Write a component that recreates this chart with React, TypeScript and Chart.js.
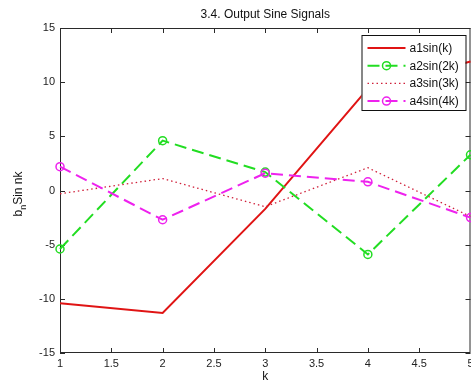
import React, { useEffect, useRef } from 'react';
import { Chart, registerables } from 'chart.js';
Chart.register(...registerables);

const kValues = [1, 2, 3, 4, 5];
const a1Values = [-10.4, -11.3, -1.7, 9.4, 11.9];
const a2Values = [-5.4, 4.6, 1.7, -5.9, 3.3];
const a3Values = [-0.3, 1.1, -1.5, 2.1, -2.4];
const a4Values = [2.2, -2.7, 1.6, 0.8, -2.5];
const seriesLabels = ['a1sin(k)', 'a2sin(2k)', 'a3sin(3k)', 'a4sin(4k)'];
const xTicks = [1, 1.5, 2, 2.5, 3, 3.5, 4, 4.5, 5];
const yTicks = [-15, -10, -5, 0, 5, 10, 15];
const titleText = '3.4. Output Sine Signals';
const xLabel = 'k';
const yLabelBase = 'b';
const yLabelSub = 'n';
const yLabelRest = 'Sin nk';

const FONT = '"Liberation Sans", Arial, sans-serif';

const toPts = (arr: number[]) => kValues.map((k, i) => ({ x: k, y: arr[i] }));

const framePlugin = {
  id: 'matlabFrame',
  beforeDatasetsDraw(chart: any) {
    const { ctx, chartArea: a, scales } = chart;
    ctx.save();
    ctx.strokeStyle = '#2a2a2a';
    ctx.lineWidth = 1;
    ctx.strokeRect(a.left + 0.5, a.top + 0.5, a.right - a.left - 1, a.bottom - a.top - 1);
    ctx.beginPath();
    xTicks.forEach((t) => {
      const x = Math.round(scales.x.getPixelForValue(t)) + 0.5;
      ctx.moveTo(x, a.bottom);
      ctx.lineTo(x, a.bottom - 5);
      ctx.moveTo(x, a.top);
      ctx.lineTo(x, a.top + 5);
    });
    yTicks.forEach((t) => {
      const y = Math.round(scales.y.getPixelForValue(t)) + 0.5;
      ctx.moveTo(a.left, y);
      ctx.lineTo(a.left + 5, y);
      ctx.moveTo(a.right, y);
      ctx.lineTo(a.right - 5, y);
    });
    ctx.stroke();
    ctx.restore();
  },
  afterDatasetsDraw(chart: any) {
    const { ctx, chartArea: a } = chart;
    const ds = chart.data.datasets;
    const bx = a.right - 109;
    const by = a.top + 7;
    const bw = 104;
    const bh = 75;
    ctx.save();
    ctx.fillStyle = '#ffffff';
    ctx.fillRect(bx, by, bw, bh);
    ctx.strokeStyle = '#111111';
    ctx.lineWidth = 1;
    ctx.strokeRect(bx + 0.5, by + 0.5, bw, bh);
    ds.forEach((d: any, i: number) => {
      const y = by + 13 + i * 17.7;
      ctx.save();
      ctx.strokeStyle = d.borderColor;
      ctx.lineWidth = d.borderWidth;
      ctx.setLineDash(d.borderDash || []);
      ctx.beginPath();
      ctx.moveTo(bx + 6, y);
      ctx.lineTo(bx + 44, y);
      ctx.stroke();
      ctx.setLineDash([]);
      if (d.pointRadius > 0) {
        ctx.lineWidth = d.pointBorderWidth;
        ctx.beginPath();
        ctx.arc(bx + 25, y, d.pointRadius, 0, Math.PI * 2);
        ctx.stroke();
      }
      ctx.restore();
      ctx.fillStyle = '#111111';
      ctx.font = `12px ${FONT}`;
      ctx.textAlign = 'left';
      ctx.textBaseline = 'middle';
      ctx.fillText(d.label, bx + 48, y + 0.5);
    });
    ctx.restore();
  },
  afterDraw(chart: any) {
    const { ctx, chartArea: a } = chart;
    ctx.save();
    ctx.fillStyle = '#111111';
    ctx.font = `12px ${FONT}`;
    ctx.textAlign = 'center';
    ctx.textBaseline = 'middle';
    const cx = (a.left + a.right) / 2;
    ctx.fillText(titleText, cx, 15);
    ctx.fillText(xLabel, cx, 377);
    // y label
    const mainFont = `12px ${FONT}`;
    const subFont = `9px ${FONT}`;
    ctx.font = mainFont;
    const wb = ctx.measureText(yLabelBase).width;
    const wr = ctx.measureText(yLabelRest).width;
    ctx.font = subFont;
    const ws = ctx.measureText(yLabelSub).width;
    const total = wb + ws + wr;
    ctx.translate(22, 194);
    ctx.rotate(-Math.PI / 2);
    ctx.textAlign = 'left';
    ctx.textBaseline = 'alphabetic';
    let x = -total / 2;
    ctx.font = mainFont;
    ctx.fillText(yLabelBase, x, 0);
    x += wb;
    ctx.font = subFont;
    ctx.fillText(yLabelSub, x, 4);
    x += ws;
    ctx.font = mainFont;
    ctx.fillText(yLabelRest, x, 0);
    ctx.restore();
  },
};

export default function App() {
  const ref = useRef<HTMLCanvasElement | null>(null);
  useEffect(() => {
    if (!ref.current) return;
    const tickFont = { family: FONT, size: 11 };
    const chart = new Chart(ref.current, {
      type: 'line',
      data: {
        datasets: [
          {
            label: seriesLabels[0],
            data: toPts(a1Values),
            borderColor: '#e01414',
            borderWidth: 2,
            borderDash: [],
            pointRadius: 0,
            pointBorderWidth: 0,
            tension: 0,
            fill: false,
            clip: false as any,
            order: 4,
          },
          {
            label: seriesLabels[1],
            data: toPts(a2Values),
            borderColor: '#22dd22',
            borderWidth: 2,
            borderDash: [12, 6],
            pointRadius: 4,
            pointBorderWidth: 1.5,
            pointBackgroundColor: 'rgba(0,0,0,0)',
            pointBorderColor: '#22dd22',
            tension: 0,
            fill: false,
            clip: false as any,
            order: 3,
          },
          {
            label: seriesLabels[2],
            data: toPts(a3Values),
            borderColor: '#d0203a',
            borderWidth: 1.3,
            borderDash: [1.5, 3],
            pointRadius: 0,
            pointBorderWidth: 0,
            tension: 0,
            fill: false,
            clip: false as any,
            order: 2,
          },
          {
            label: seriesLabels[3],
            data: toPts(a4Values),
            borderColor: '#ee22ee',
            borderWidth: 2,
            borderDash: [12, 6],
            pointRadius: 4,
            pointBorderWidth: 1.5,
            pointBackgroundColor: 'rgba(0,0,0,0)',
            pointBorderColor: '#ee22ee',
            tension: 0,
            fill: false,
            clip: false as any,
            order: 1,
          },
        ] as any,
      },
      options: {
        responsive: false,
        animation: false,
        devicePixelRatio: 1,
        layout: { padding: { top: 28, right: 0, left: 0, bottom: 0 } },
        plugins: { legend: { display: false }, title: { display: false }, tooltip: { enabled: false } },
        scales: {
          x: {
            type: 'linear',
            min: 1,
            max: 5,
            grid: { display: false, drawTicks: false },
            border: { display: false },
            afterBuildTicks: (s: any) => {
              s.ticks = xTicks.map((v) => ({ value: v }));
            },
            afterFit: (s: any) => {
              s.height = 32;
              s.paddingLeft = 0;
              s.paddingRight = 0;
            },
            ticks: {
              font: tickFont,
              color: '#222222',
              padding: 4,
              maxRotation: 0,
              autoSkip: false,
              callback: (v: any) => String(v),
            },
          },
          y: {
            type: 'linear',
            min: -15,
            max: 15,
            grid: { display: false, drawTicks: false },
            border: { display: false },
            afterBuildTicks: (s: any) => {
              s.ticks = yTicks.map((v) => ({ value: v }));
            },
            afterFit: (s: any) => {
              s.width = 60;
              s.paddingTop = 0;
              s.paddingBottom = 0;
            },
            ticks: {
              font: tickFont,
              color: '#222222',
              padding: 5,
              autoSkip: false,
              callback: (v: any) => String(v),
            },
          },
        } as any,
      },
      plugins: [framePlugin],
    });
    return () => chart.destroy();
  }, []);
  return (
    <div style={{ position: 'absolute', left: 0, top: 0, width: 471, height: 385, overflow: 'hidden', background: '#fff' }}>
      <canvas ref={ref} width={476} height={385} style={{ display: 'block' }} />
    </div>
  );
}
